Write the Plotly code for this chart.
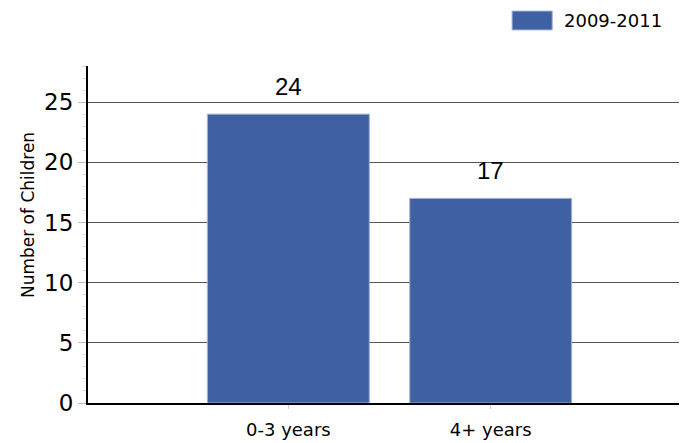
import plotly.graph_objects as go

# data
categories = ["0-3 years", "4+ years"]
children = [24, 17]
series_name = "2009-2011"
y_title = "Number of Children"

bar_color = "#3F61A4"
base_font = "DejaVu Sans, Verdana, sans-serif"

fig = go.Figure()

fig.add_trace(go.Bar(
    x=categories,
    y=children,
    name=series_name,
    marker=dict(color=bar_color, line=dict(color="#9FB0D2", width=1)),
    width=0.8,
    showlegend=False,
))

# value labels above the bars
for cat, val in zip(categories, children):
    fig.add_annotation(
        x=cat, y=val, text=str(val),
        xref="x", yref="y", yanchor="bottom", yshift=12,
        showarrow=False,
        font=dict(family="Liberation Sans, Arial, sans-serif", size=24, color="black"),
    )

# the page body has an 8px margin, so the figure is sized to fit inside it
fig.update_layout(
    width=679,
    height=435,
    margin=dict(l=80, r=0, t=58, b=40),
    paper_bgcolor="white",
    plot_bgcolor="white",
    font=dict(family=base_font, color="black"),
    xaxis=dict(
        range=[-0.99, 1.97],
        showgrid=False,
        showline=True,
        linecolor="black",
        linewidth=2,
        ticks="outside",
        ticklen=4,
        tickcolor="#CCCCCC",
        tickfont=dict(size=18),
        ticklabelstandoff=5,
        zeroline=False,
    ),
    yaxis=dict(
        range=[0, 28],
        tickvals=[0, 5, 10, 15, 20, 25],
        showgrid=True,
        gridcolor="#555555",
        gridwidth=1,
        showline=True,
        linecolor="black",
        linewidth=2,
        ticks="outside",
        ticklen=8,
        tickcolor="#BBBBBB",
        tickfont=dict(size=23),
        zeroline=False,
        minor=dict(dtick=1, ticks="outside", ticklen=4, tickcolor="#DDDDDD", showgrid=False),
    ),
    showlegend=False,
)

# y-axis title placed like the reference (slightly above centre)
fig.add_annotation(
    text=y_title, textangle=-90,
    xref="paper", yref="paper", x=-0.12, y=0.558,
    showarrow=False, font=dict(size=17),
)

# legend swatch and label in the top right corner
fig.add_shape(
    type="rect", xref="paper", yref="paper",
    x0=0.708, x1=0.775, y0=1.107, y1=1.163,
    fillcolor=bar_color, line=dict(color="#9FB0D2", width=1),
)
fig.add_annotation(
    text=series_name, xref="paper", yref="paper",
    x=0.791, y=1.135, xanchor="left", yanchor="middle",
    showarrow=False, font=dict(size=18),
)

fig.write_html("out.html")
